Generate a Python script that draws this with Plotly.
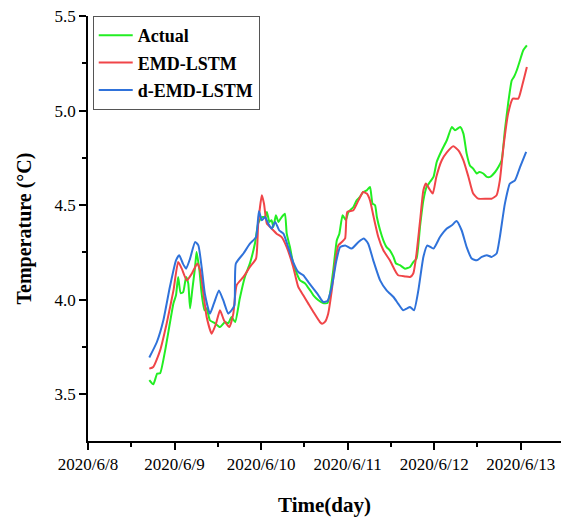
import pandas as pd
import plotly.graph_objects as go

# hours after 2020-06-08 00:00
actual_h = [17.0, 18.1, 19.2, 20.0, 21.4, 22.7, 23.7, 24.4, 25.0, 25.7, 26.4, 27.2, 27.8, 28.3, 28.9, 29.7,
            30.1, 30.9, 31.5, 32.3, 32.9, 33.8, 35.2, 36.6, 38.0, 38.9, 39.8, 40.8, 42.1, 43.5, 44.9, 46.3,
            47.2, 48.2, 49.1, 49.6, 50.3, 50.9, 51.4, 52.1, 52.8, 53.7, 54.6, 55.1, 56.0, 56.9, 57.9, 58.8,
            60.2, 61.6, 62.5, 63.9, 65.2, 66.4, 67.1, 68.0, 69.0, 69.7, 70.6, 71.5, 72.2, 73.6, 74.5, 75.4,
            76.3, 77.3, 78.2, 78.9, 79.6, 80.1, 81.0, 81.9, 82.8, 83.7, 84.7, 85.4, 86.5, 87.9, 89.3, 90.2,
            91.1, 92.1, 93.0, 93.9, 94.8, 95.8, 96.7, 98.1, 99.5, 100.9, 101.8, 103.2, 104.1, 105.0, 105.9,
            106.8, 107.8, 108.5, 109.6, 110.6, 111.5, 112.9, 113.8, 114.7, 115.6, 116.5, 117.5, 118.1, 118.9,
            119.8, 120.7, 121.7]
actual_v = [3.574, 3.552, 3.609, 3.611, 3.732, 3.875, 3.981, 4.023, 4.120, 4.034, 4.040, 4.120, 4.086, 3.954,
            4.049, 4.173, 4.252, 4.155, 4.034, 3.944, 3.954, 3.891, 3.875, 3.855, 3.882, 3.875, 3.908, 3.882,
            4.007, 4.120, 4.192, 4.298, 4.404, 4.437, 4.437, 4.464, 4.411, 4.420, 4.384, 4.446, 4.411, 4.437,
            4.455, 4.349, 4.278, 4.191, 4.138, 4.102, 4.086, 4.049, 4.023, 3.997, 3.982, 3.982, 4.032, 4.155,
            4.314, 4.349, 4.446, 4.420, 4.464, 4.490, 4.525, 4.543, 4.569, 4.578, 4.596, 4.508, 4.499, 4.437,
            4.367, 4.314, 4.278, 4.261, 4.226, 4.191, 4.182, 4.164, 4.173, 4.199, 4.217, 4.393, 4.525, 4.596,
            4.622, 4.649, 4.728, 4.790, 4.843, 4.913, 4.896, 4.913, 4.878, 4.772, 4.710, 4.693, 4.667, 4.675,
            4.667, 4.649, 4.649, 4.675, 4.701, 4.737, 4.896, 5.037, 5.160, 5.177, 5.213, 5.266, 5.319, 5.345]

emd_h = [17.0, 18.1, 20.0, 21.8, 23.7, 25.0, 26.0, 27.4, 28.8, 30.3, 31.1, 32.0, 32.9, 34.3, 35.5, 36.6,
         37.7, 39.2, 40.3, 41.2, 43.1, 44.9, 46.6, 47.2, 48.2, 48.8, 49.6, 50.9, 52.3, 53.7, 55.1, 56.9,
         58.3, 59.7, 61.1, 62.5, 64.3, 64.9, 65.7, 66.6, 67.6, 68.5, 69.4, 70.4, 71.3, 71.9, 73.6, 75.0,
         76.3, 77.3, 78.2, 79.1, 80.5, 81.9, 83.7, 85.1, 86.0, 87.9, 89.3, 90.2, 91.1, 92.1, 93.0, 93.7,
         94.6, 95.6, 96.6, 98.1, 99.5, 101.3, 102.7, 104.1, 105.5, 106.8, 108.2, 110.6, 111.9, 113.3,
         114.2, 115.2, 116.5, 117.8, 119.3, 120.3, 121.7]
emd_v = [3.635, 3.644, 3.732, 3.873, 4.049, 4.199, 4.164, 4.102, 4.138, 4.191, 4.155, 4.032, 3.908, 3.820,
         3.873, 3.944, 3.891, 3.855, 3.926, 4.076, 4.120, 4.173, 4.217, 4.402, 4.552, 4.508, 4.402, 4.376,
         4.349, 4.331, 4.278, 4.173, 4.067, 4.023, 3.979, 3.935, 3.882, 3.873, 3.882, 3.926, 4.049, 4.191,
         4.287, 4.305, 4.324, 4.464, 4.473, 4.525, 4.569, 4.561, 4.525, 4.446, 4.331, 4.261, 4.208, 4.155,
         4.129, 4.123, 4.120, 4.138, 4.244, 4.420, 4.578, 4.614, 4.587, 4.561, 4.650, 4.737, 4.779, 4.811,
         4.790, 4.737, 4.649, 4.561, 4.534, 4.534, 4.534, 4.552, 4.631, 4.807, 4.984, 5.063, 5.063, 5.125,
         5.230]

demd_h = [17.0, 19.1, 20.9, 22.7, 24.4, 25.3, 26.3, 27.2, 28.3, 29.7, 30.6, 31.5, 32.4, 33.8, 34.9, 36.3,
          37.5, 38.9, 39.8, 40.6, 41.0, 43.1, 44.9, 46.6, 47.4, 48.2, 49.1, 50.0, 50.9, 51.9, 53.0, 54.2,
          55.5, 56.9, 58.3, 59.7, 61.1, 62.5, 63.9, 65.2, 66.4, 67.6, 68.8, 69.9, 71.3, 73.1, 75.0, 76.5,
          77.7, 79.1, 81.0, 82.8, 84.7, 86.0, 87.4, 88.4, 89.3, 90.4, 91.6, 93.0, 94.1, 95.8, 97.6, 99.5,
          100.9, 102.2, 103.6, 105.0, 106.4, 107.8, 109.2, 110.6, 111.9, 113.3, 114.2, 115.6, 117.0, 118.4,
          119.8, 121.5]
demd_v = [3.694, 3.776, 3.891, 4.067, 4.208, 4.235, 4.191, 4.164, 4.217, 4.305, 4.287, 4.173, 4.032, 3.926,
          3.979, 4.049, 3.997, 3.926, 3.944, 3.970, 4.191, 4.244, 4.296, 4.331, 4.467, 4.420, 4.437, 4.402,
          4.376, 4.411, 4.367, 4.349, 4.278, 4.199, 4.146, 4.129, 4.093, 4.058, 4.023, 3.988, 3.993, 4.067,
          4.199, 4.278, 4.287, 4.270, 4.305, 4.323, 4.296, 4.208, 4.102, 4.049, 4.014, 3.979, 3.944, 3.953,
          3.961, 3.944, 4.049, 4.226, 4.287, 4.270, 4.331, 4.376, 4.393, 4.416, 4.367, 4.278, 4.217, 4.208,
          4.226, 4.235, 4.226, 4.244, 4.331, 4.508, 4.614, 4.631, 4.701, 4.781]

series_names = ["Actual", "EMD-LSTM", "d-EMD-LSTM"]
x_ticks = ["2020-06-08", "2020-06-09", "2020-06-10", "2020-06-11", "2020-06-12", "2020-06-13"]
x_ticktext = ["2020/6/8", "2020/6/9", "2020/6/10", "2020/6/11", "2020/6/12", "2020/6/13"]
y_ticks = [3.5, 4.0, 4.5, 5.0, 5.5]
y_ticktext = ["3.5", "4.0", "4.5", "5.0", "5.5"]

base = pd.Timestamp("2020-06-08")
def to_dt(hours):
    return [base + pd.Timedelta(hours=h) for h in hours]

colors = ["#22EE22", "#F04548", "#2F72DA"]
fig = go.Figure()
for i, (h, v) in enumerate([(actual_h, actual_v), (emd_h, emd_v), (demd_h, demd_v)]):
    fig.add_trace(go.Scatter(x=to_dt(h), y=v, mode="lines", name=series_names[i],
                             legendgroup=series_names[i],
                             line=dict(color=colors[i], width=2, shape="spline", smoothing=0.5)))

font_family = "Liberation Serif, Times New Roman, serif"
fig.update_layout(
    width=561, height=519,
    margin=dict(l=88, r=0, t=16, b=78),
    paper_bgcolor="white", plot_bgcolor="white",
    font=dict(family=font_family, color="black", size=17),
    showlegend=True,
    legend=dict(x=0.01, y=1, xanchor="left", yanchor="top",
                bordercolor="#555555", borderwidth=1, bgcolor="white",
                font=dict(family=font_family, size=18, color="black", weight="bold"),
                tracegroupgap=1, itemwidth=34),
    xaxis=dict(
        type="date",
        range=[pd.Timestamp("2020-06-08"), pd.Timestamp("2020-06-08") + pd.Timedelta(days=5.465)],
        tickvals=x_ticks, ticktext=x_ticktext,
        ticks="outside", ticklen=7, tickwidth=1.5, tickcolor="black",
        showline=True, linecolor="black", linewidth=1.5, showgrid=False, zeroline=False,
        tickfont=dict(family=font_family, size=17),
        minor=dict(ticks="outside", ticklen=4, tickwidth=1.5, tickcolor="black",
                   dtick=43200000, tick0="2020-06-08", showgrid=False),
        title=dict(text="Time(day)", font=dict(family=font_family, size=21, weight="bold"), standoff=24),
    ),
    yaxis=dict(
        range=[3.2525, 5.5],
        tickvals=y_ticks, ticktext=y_ticktext,
        ticks="outside", ticklen=7, tickwidth=1.5, tickcolor="black",
        showline=True, linecolor="black", linewidth=1.5, showgrid=False, zeroline=False,
        tickfont=dict(family=font_family, size=17),
        minor=dict(ticks="outside", ticklen=4, tickwidth=1.5, tickcolor="black",
                   dtick=0.25, tick0=3.5, showgrid=False),
        title=dict(text="Temperature (°C)", font=dict(family=font_family, size=20, weight="bold"), standoff=18),
    ),
)

fig.write_html("out.html")
